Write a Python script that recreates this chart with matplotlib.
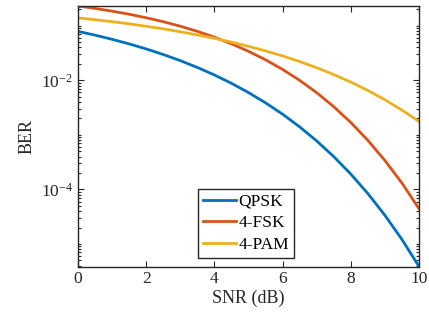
import numpy as np
import matplotlib
matplotlib.use("Agg")
import matplotlib.pyplot as plt
from matplotlib.ticker import LogLocator, FixedLocator, NullFormatter

# ── data ──────────────────────────────────────────────────────────────────────
snr_db = [0, 0.5, 1, 1.5, 2, 2.5, 3, 3.5, 4, 4.5, 5,
          5.5, 6, 6.5, 7, 7.5, 8, 8.5, 9, 9.5, 10]
ber_qpsk = [7.865e-2, 6.707e-2, 5.628e-2, 4.640e-2, 3.750e-2, 2.965e-2,
            2.288e-2, 1.717e-2, 1.250e-2, 8.79e-3, 5.95e-3, 3.86e-3,
            2.39e-3, 1.400e-3, 7.73e-4, 3.99e-4, 1.91e-4, 8.40e-5,
            3.36e-5, 1.21e-5, 3.87e-6]
ber_fsk = [0.2294, 0.2073, 0.1847, 0.1621, 0.1398, 0.1183, 0.0978,
           0.0787, 0.06157, 0.04658, 0.03395, 0.02371, 0.01579,
           9.96e-3, 5.916e-3, 3.279e-3, 1.683e-3, 7.93e-4, 3.39e-4,
           1.305e-4, 4.437e-5]
ber_pam = [0.1391, 0.1288, 0.1183, 0.1079, 0.0976, 0.0874, 0.0774,
           0.0678, 0.0586, 0.0500, 0.0419, 0.0345, 0.0279, 0.0220,
           0.01697, 0.01272, 9.25e-3, 6.50e-3, 4.39e-3, 2.84e-3, 1.754e-3]
labels = ["QPSK", "4-FSK", "4-PAM"]
colors = ["#0072BD", "#D95319", "#EDB120"]

plt.rcParams["font.family"] = ["Liberation Serif", "DejaVu Serif"]
plt.rcParams["mathtext.fontset"] = "custom"
plt.rcParams["mathtext.rm"] = "Liberation Serif"
plt.rcParams["mathtext.it"] = "Liberation Serif:italic"

fig = plt.figure(figsize=(4.29, 3.21), dpi=100)
ax = fig.add_axes([78 / 429, 54.5 / 321, 341 / 429, 260.5 / 321])

for ys, lab, col in zip([ber_qpsk, ber_fsk, ber_pam], labels, colors):
    ax.plot(snr_db, ys, color=col, lw=2.0, label=lab)

ax.set_yscale("log")
ax.set_xlim(0, 10)
ax.set_ylim(min(ber_qpsk), max(ber_fsk))
ax.set_xticks(range(0, 11, 2))
ax.yaxis.set_major_locator(FixedLocator([1e-4, 1e-2]))
ax.yaxis.set_minor_locator(LogLocator(base=10, subs=np.arange(1, 10), numticks=20))
ax.yaxis.set_minor_formatter(NullFormatter())
ax.set_yticklabels([r"$10^{-4}$", r"$10^{-2}$"])

ax.tick_params(which="both", direction="in", top=True, right=True,
               labelsize=12.5, colors="#262626", width=0.8)
ax.tick_params(which="major", length=4)
ax.tick_params(which="minor", length=2)
for sp in ax.spines.values():
    sp.set_linewidth(1.0)
    sp.set_color("#262626")

ax.set_xlabel("SNR (dB)", fontsize=13, color="#262626", labelpad=2)
ax.set_ylabel("BER", fontsize=13, color="#262626", labelpad=4)

leg = ax.legend(loc="lower center", bbox_to_anchor=(0.493, 0.033),
                borderaxespad=0, fontsize=12.5, handlelength=1.85,
                handletextpad=0.15, labelspacing=0.3, borderpad=0.3,
                fancybox=False, framealpha=1)
leg.get_frame().set_edgecolor("#262626")
leg.get_frame().set_linewidth(1.0)

fig.savefig("out.png", dpi=100)
